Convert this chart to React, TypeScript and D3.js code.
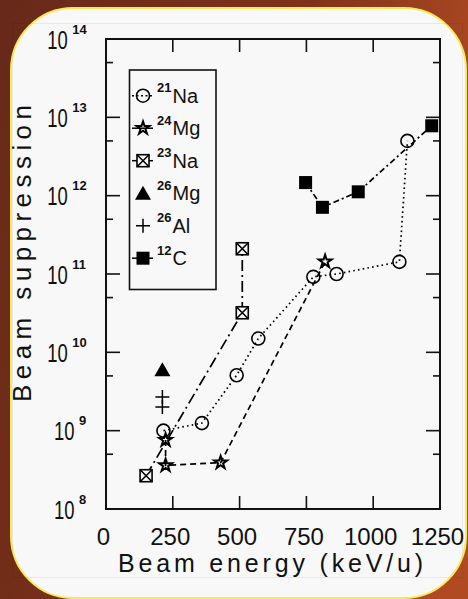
import React from "react";
import * as d3 from "d3";

// beam energy (keV/u) and beam suppression
const energy21Na = [215, 359, 489, 570, 776, 863, 1098, 1128];
const supp21Na = [1.0e9, 1.25e9, 5.1e9, 1.5e10, 9.2e10, 1.0e11, 1.43e11, 5.0e12];
const energy24Mg = [223, 223, 429, 820];
const supp24Mg = [7.6e8, 3.6e8, 3.9e8, 1.44e11];
const energy23Na = [150, 510, 510];
const supp23Na = [2.66e8, 3.2e10, 2.1e11];
const energy26Mg = [211];
const supp26Mg = [6.0e9];
const energy26Al = [211, 211];
const supp26Al = [2.7e9, 2.0e9];
const energy12C = [747, 810, 944, 1219];
const supp12C = [1.47e12, 7.1e11, 1.12e12, 7.8e12];

const xTicks = [0, 250, 500, 750, 1000, 1250];
const yDecades = [8, 9, 10, 11, 12, 13, 14];
const legendItems = [
  { mass: "21", el: "Na", kind: "circle" },
  { mass: "24", el: "Mg", kind: "star" },
  { mass: "23", el: "Na", kind: "xsquare" },
  { mass: "26", el: "Mg", kind: "triangle" },
  { mass: "26", el: "Al", kind: "plus" },
  { mass: "12", el: "C", kind: "square" },
];

const W = 468;
const H = 599;
const frame = { left: 106, right: 440, top: 39, bottom: 509 };
const font = "'Liberation Sans', Arial, sans-serif";

const zip = (xs: number[], ys: number[]) => xs.map((x, i) => [x, ys[i]] as [number, number]);

function Marker({ kind, cx, cy }: { kind: string; cx: number; cy: number }) {
  if (kind === "circle")
    return <circle cx={cx} cy={cy} r={6.5} fill="none" stroke="#000" strokeWidth={1.6} />;
  if (kind === "star") {
    const p = d3.symbol(d3.symbolStar, 52)();
    return (
      <path d={p || ""} transform={`translate(${cx},${cy})`} fill="none" stroke="#000" strokeWidth={2} strokeLinejoin="miter" />
    );
  }
  if (kind === "xsquare")
    return (
      <g stroke="#000" strokeWidth={1.6} fill="none">
        <rect x={cx - 6} y={cy - 6} width={12} height={12} fill="#f8f8f8" />
        <path d={`M${cx - 6},${cy - 6}L${cx + 6},${cy + 6}M${cx + 6},${cy - 6}L${cx - 6},${cy + 6}`} />
      </g>
    );
  if (kind === "square") return <rect x={cx - 6.5} y={cy - 6.5} width={13} height={13} fill="#000" />;
  if (kind === "triangle")
    return <path d={`M${cx},${cy - 7.5}L${cx + 8},${cy + 6.5}L${cx - 8},${cy + 6.5}Z`} fill="#000" />;
  return (
    <path d={`M${cx - 7},${cy}L${cx + 7},${cy}M${cx},${cy - 7}L${cx},${cy + 7}`} stroke="#000" strokeWidth={1.5} />
  );
}

export default function App() {
  const x = d3.scaleLinear().domain([0, 1250]).range([frame.left, frame.right]);
  const y = d3.scaleLog().domain([1e8, 1e14]).range([frame.bottom, frame.top]);
  const line = d3
    .line<[number, number]>()
    .x((d) => x(d[0]))
    .y((d) => y(d[1]));

  const series = [
    { pts: zip(energy21Na, supp21Na), kind: "circle", dash: "1.6,3.2" },
    { pts: zip(energy24Mg, supp24Mg), kind: "star", dash: "6,4" },
    { pts: zip(energy23Na, supp23Na), kind: "xsquare", dash: "11,4,2,4" },
    { pts: zip(energy12C, supp12C), kind: "square", dash: "6,3,2,3" },
    { pts: zip(energy26Mg, supp26Mg), kind: "triangle", dash: null },
    { pts: zip(energy26Al, supp26Al), kind: "plus", dash: null },
  ];

  const minorY = yDecades.slice(0, -1).map((d) => 5 * Math.pow(10, d));
  const majorY = yDecades.slice(1, -1).map((d) => Math.pow(10, d));
  const innerX = xTicks.slice(1, -1);

  return (
    <svg width={W} height={H} style={{ position: "absolute", left: 0, top: 0 }} fontFamily={font}>
      <defs>
        <linearGradient id="bg" x1="0" y1="0" x2="1" y2="0.3">
          <stop offset="0" stopColor="#68291a" />
          <stop offset="0.6" stopColor="#7e3219" />
          <stop offset="1" stopColor="#b04a22" />
        </linearGradient>
      </defs>
      <rect width={W} height={H} fill="url(#bg)" />
      <rect x={11} y={8} width={455} height={590} rx={62} ry={62} fill="#f8f8f8" stroke="#f7ea55" strokeWidth={2} />
      <rect x={12.5} y={23.5} width={450} height={554} fill="none" stroke="#000" strokeOpacity={0.06} strokeWidth={1} />

      {/* frame and ticks */}
      <rect
        x={frame.left}
        y={frame.top}
        width={frame.right - frame.left}
        height={frame.bottom - frame.top}
        fill="none"
        stroke="#111"
        strokeWidth={2}
      />
      <g stroke="#111" strokeWidth={1.6}>
        {innerX.map((t) => (
          <g key={"x" + t}>
            <line x1={x(t)} x2={x(t)} y1={frame.bottom} y2={frame.bottom - 13} />
            <line x1={x(t)} x2={x(t)} y1={frame.top} y2={frame.top + 13} />
          </g>
        ))}
        {majorY.map((t) => (
          <g key={"ym" + t}>
            <line x1={frame.left} x2={frame.left + 14} y1={y(t)} y2={y(t)} />
            <line x1={frame.right} x2={frame.right - 14} y1={y(t)} y2={y(t)} />
          </g>
        ))}
        {minorY.map((t) => (
          <g key={"yn" + t}>
            <line x1={frame.left} x2={frame.left + 7} y1={y(t)} y2={y(t)} />
            <line x1={frame.right} x2={frame.right - 7} y1={y(t)} y2={y(t)} />
          </g>
        ))}
      </g>

      {/* tick labels */}
      {xTicks.map((t) => (
        <text key={"xl" + t} x={x(t) - 2.5} y={545} fontSize={24} textAnchor="middle" fill="#111">
          {t}
        </text>
      ))}
      {yDecades.map((d) => {
        const exp = String(d);
        const expX = 85.5 - exp.length * 6.6;
        const ty = y(Math.pow(10, d));
        return (
          <g key={"yl" + d} fill="#111">
            <text x={expX - 25} y={ty + 9.5} fontSize={25} textLength={20.5} lengthAdjust="spacingAndGlyphs">
              10
            </text>
            <text x={expX} y={ty - 5.5} fontSize={13} fontWeight="bold">
              {exp}
            </text>
          </g>
        );
      })}

      {/* axis titles */}
      <text x={118} y={572} fontSize={25} textLength={305} lengthAdjust="spacing" fill="#111">
        Beam energy (keV/u)
      </text>
      <text
        transform="translate(31,402) rotate(-90)"
        x={0}
        y={0}
        fontSize={26}
        textLength={297}
        lengthAdjust="spacing"
        fill="#111"
      >
        Beam suppression
      </text>

      {/* series */}
      {series.map((s, i) => (
        <g key={"s" + i}>
          {s.dash && (
            <path d={line(s.pts) || ""} fill="none" stroke="#000" strokeWidth={1.7} strokeDasharray={s.dash} />
          )}
          {s.pts.map((p, j) => (
            <Marker key={j} kind={s.kind} cx={x(p[0])} cy={y(p[1])} />
          ))}
        </g>
      ))}

      {/* legend */}
      <rect x={129.5} y={70} width={86.5} height={219.5} fill="none" stroke="#111" strokeWidth={1.6} />
      {legendItems.map((it, i) => {
        const cy = 95.7 + i * 32.5;
        const withLine = it.kind !== "triangle" && it.kind !== "plus";
        return (
          <g key={"lg" + i}>
            {withLine && <line x1={132} x2={153} y1={cy} y2={cy} stroke="#000" strokeWidth={1.5} strokeDasharray={it.kind === "circle" ? "2,2.5" : null} />}
            <Marker kind={it.kind} cx={143} cy={cy} />
            <text x={157} y={cy - 3.5} fontSize={13} fontWeight="bold" fill="#111">
              {it.mass}
            </text>
            <text x={172.5} y={cy + 7.2} fontSize={20} fill="#111">
              {it.el}
            </text>
          </g>
        );
      })}
    </svg>
  );
}
